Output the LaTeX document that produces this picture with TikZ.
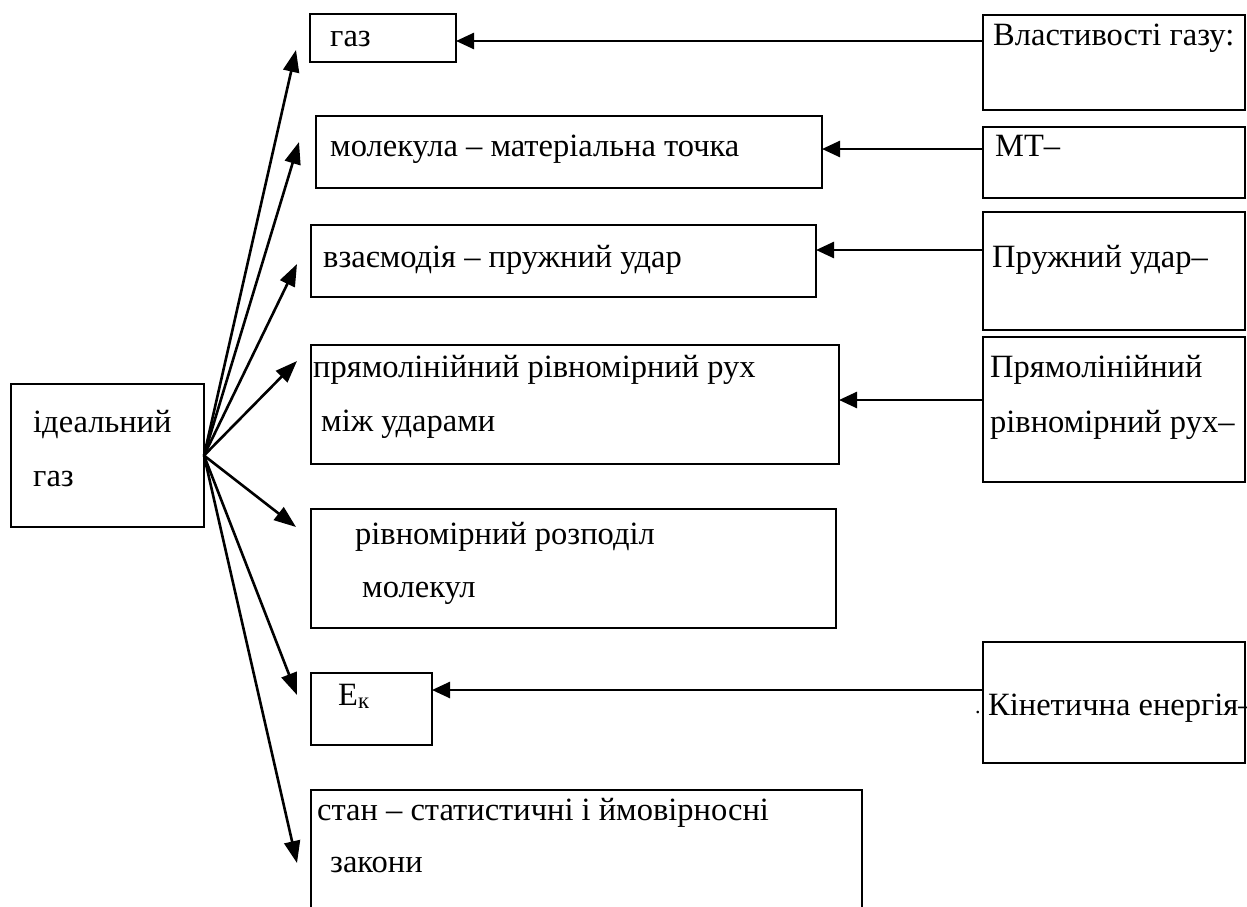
\documentclass[tikz,border=0pt]{standalone}
\usepackage{fontspec}
\setmainfont{Liberation Serif}
\usetikzlibrary{arrows.meta}
\begin{document}
\begin{tikzpicture}[x=1pt,y=-1pt,
  box/.style={draw, line width=2.2pt, anchor=north west, inner sep=0pt, outer sep=0pt},
  txt/.style={anchor=base west, inner sep=0pt, font=\fontsize{32.5}{38}\selectfont},
  fan/.style={line width=2.6pt, -{Triangle[length=22pt,width=16pt]}},
  link/.style={line width=2.6pt, -{Triangle[length=18pt,width=16pt]}}]
\useasboundingbox (0,0) rectangle (1247,907);
\clip (0,0) rectangle (1247,907);

% central box
\node[box, minimum width=193pt, minimum height=143pt] (ideal) at (11,384) {};
\node[txt] (idealA) at (33,432) {ідеальний};
\node[txt] (idealB) at (33,486) {газ};

% properties of the ideal gas
\node[box, minimum width=146pt, minimum height=48pt] (gas) at (310,14) {};
\node[txt] (gasT) at (330,47) {газ};
\node[box, minimum width=506pt, minimum height=72pt] (mol) at (316,116) {};
\node[txt] (molT) at (330,156) {молекула – матеріальна точка};
\node[box, minimum width=505pt, minimum height=72pt] (inter) at (311,225) {};
\node[txt] (interT) at (323,267) {взаємодія – пружний удар};
\node[box, minimum width=528pt, minimum height=119pt] (motion) at (311,345) {};
\node[txt] (motionA) at (313,377) {прямолінійний рівномірний рух};
\node[txt] (motionB) at (321,431) {між ударами};
\node[box, minimum width=525pt, minimum height=119pt] (distr) at (311,509) {};
\node[txt] (distrA) at (355,544) {рівномірний розподіл};
\node[txt] (distrB) at (362,597) {молекул};
\node[box, minimum width=121pt, minimum height=72pt] (ek) at (311,673) {};
\node[txt] (ekT) at (338,705) {E\textsubscript{к}};
\node[box, minimum width=551pt, minimum height=140pt] (state) at (311,790) {};
\node[txt] (stateA) at (317,820) {стан – статистичні і ймовірносні};
\node[txt] (stateB) at (330,872) {закони};

% definitions on the right
\node[box, minimum width=262pt, minimum height=95pt] (props) at (983,15) {};
\node[txt] (propsT) at (993,46) {Властивості газу:};
\node[box, minimum width=262pt, minimum height=71pt] (mt) at (983,127) {};
\node[txt] (mtT) at (995,156) {МТ–};
\node[box, minimum width=262pt, minimum height=118pt] (elastic) at (983,212) {};
\node[txt] (elasticT) at (992,267) {Пружний удар–};
\node[box, minimum width=262pt, minimum height=145pt] (rect) at (983,337) {};
\node[txt] (rectA) at (990,377) {Прямолінійний};
\node[txt] (rectB) at (990,432) {рівномірний рух–};
\node[box, minimum width=262pt, minimum height=121pt] (kin) at (983,642) {};
\node[txt] (kinT) at (988,715) {Кінетична енергія–};
\node[txt, font=\fontsize{22}{26}\selectfont] (kinDot) at (975,713) {.};

% fan arrow ends
\coordinate (t1) at (296,50);
\coordinate (t2) at (299,142);
\coordinate (t3) at (297,264);
\coordinate (t4) at (297,361);
\coordinate (t5) at (296,527);
\coordinate (t6) at (297,695);
\coordinate (t7) at (297,863);
\foreach \t in {t1,t2,t3,t4,t5,t6,t7}
  \draw[fan] (ideal.east) -- (\t);

% horizontal links
\coordinate (r1) at (0,41);
\coordinate (r2) at (0,149);
\coordinate (r3) at (0,250);
\coordinate (r4) at (0,400);
\coordinate (r5) at (0,690);
\draw[link] (props.west |- r1) -- (gas.east |- r1);
\draw[link] (mt.west |- r2) -- (mol.east |- r2);
\draw[link] (elastic.west |- r3) -- (inter.east |- r3);
\draw[link] (rect.west |- r4) -- (motion.east |- r4);
\draw[link] (kin.west |- r5) -- (ek.east |- r5);
\end{tikzpicture}
\end{document}
